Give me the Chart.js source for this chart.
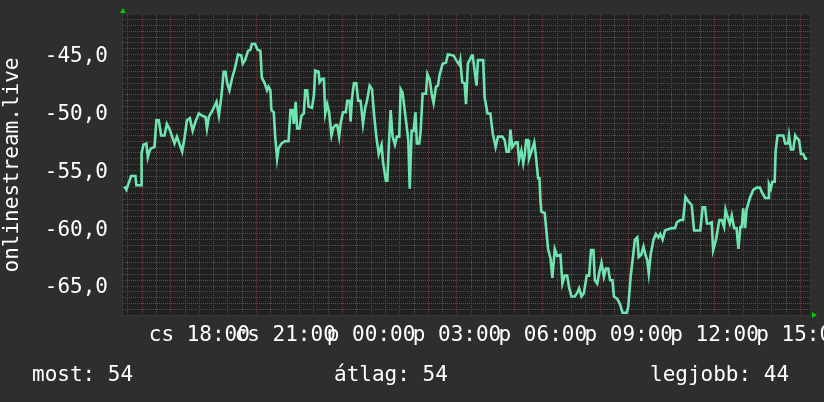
<!DOCTYPE html>
<html>
<head>
<meta charset="utf-8">
<script src="https://cdn.jsdelivr.net/npm/chart.js@4/dist/chart.umd.min.js"></script>
<style>
  html, body { margin: 0; padding: 0; background: #2e2e2e; }
  #wrap { width: 824px; height: 402px; position: relative; }
</style>
</head>
<body>
<div id="wrap"><canvas id="c" width="824" height="402"></canvas></div>
<script>
// 24 óra, percben a 15:20-as kezdéstől (csütörtök)
const startClock = 15 * 60 + 20;
const dayNames = ['cs', 'p'];
const seriesName = 'onlinestream.live';
const summary = ['most: 54', 'átlag: 54', 'legjobb: 44'];

const minutes = [
  3, 7, 17, 26, 28, 38, 39, 43, 49, 52,
  56, 59, 66, 70, 75, 80, 87, 92, 98, 103,
  108, 113, 119, 124, 129, 134, 140, 146, 152, 159,
  166, 173, 176, 180, 188, 196, 201, 206, 211, 215,
  218, 223, 229, 234, 241, 248, 251, 256, 262, 267,
  270, 277, 282, 288, 291, 297, 302, 305, 309, 311,
  316, 319, 323, 326, 332, 339, 347, 351, 355, 358,
  362, 365, 370, 374, 379, 382, 386, 389, 396, 400,
  403, 410, 412, 417, 421, 424, 428, 432, 437, 441,
  446, 449, 453, 456, 461, 467, 470, 475, 477, 480,
  484, 489, 493, 498, 503, 508, 511, 517, 522, 526,
  531, 536, 542, 545, 551, 554, 557, 561, 565, 570,
  574, 579, 582, 586, 591, 594, 598, 601, 605, 609,
  613, 616, 621, 624, 628, 635, 638, 643, 647, 651,
  656, 660, 664, 670, 677, 681, 693, 700, 705, 707,
  711, 716, 719, 723, 731, 733, 741, 744, 755, 758,
  764, 770, 775, 781, 786, 795, 800, 804, 809, 812,
  816, 823, 827, 830, 835, 839, 842, 845, 849, 851,
  856, 862, 865, 870, 873, 875, 877, 884, 891, 896,
  900, 905, 910, 917, 921, 926, 931, 935, 940, 947,
  952, 956, 961, 966, 972, 977, 981, 986, 989, 994,
  998, 1003, 1008, 1012, 1017, 1021, 1026, 1029, 1036, 1042,
  1047, 1056, 1059, 1064, 1068, 1073, 1078, 1081, 1086, 1091,
  1095, 1099, 1102, 1106, 1112, 1117, 1122, 1126, 1131, 1136,
  1143, 1150, 1157, 1161, 1168, 1174, 1179, 1185, 1192, 1197,
  1206, 1210, 1215, 1220, 1224, 1229, 1234, 1237, 1243, 1250,
  1255, 1260, 1263, 1267, 1272, 1276, 1281, 1286, 1290, 1294,
  1297, 1300, 1304, 1307, 1314, 1321, 1328, 1335, 1339, 1346,
  1352, 1354, 1358, 1361, 1366, 1368, 1372, 1384, 1388, 1394,
  1396, 1400, 1405, 1409, 1412, 1417, 1421, 1426, 1430, 1434
];

const signal = [
  -56.4, -56.7, -55.5, -55.5, -56.3, -56.3, -53.5, -52.8, -52.7, -53.9,
  -53.3, -53.1, -53.0, -50.7, -50.7, -52.0, -52.0, -51.0, -51.5, -52.1,
  -52.7, -52.1, -52.8, -53.4, -52.2, -50.7, -50.5, -51.6, -50.8, -50.1,
  -50.3, -50.4, -51.4, -50.4, -49.8, -49.1, -50.3, -48.7, -46.5, -46.5,
  -47.4, -48.1, -47.0, -46.3, -45.0, -45.1, -45.8, -45.5, -44.7, -44.6,
  -44.1, -44.1, -44.6, -44.7, -47.0, -47.5, -48.1, -47.8, -48.1, -49.8,
  -50.0, -52.1, -54.0, -53.1, -52.7, -52.5, -52.5, -49.8, -49.8, -51.0,
  -49.1, -51.4, -51.4, -50.3, -50.1, -48.1, -48.1, -49.5, -49.6, -48.6,
  -46.4, -46.5, -47.4, -47.1, -47.1, -50.1, -49.3, -50.0, -52.0, -51.3,
  -51.1, -51.1, -52.1, -51.0, -50.0, -50.0, -49.0, -49.0, -50.8, -48.8,
  -47.5, -47.5, -49.0, -49.0, -51.0, -49.5, -49.1, -47.7, -48.0, -50.1,
  -52.1, -53.6, -52.8, -54.3, -55.9, -55.9, -53.1, -49.8, -52.1, -52.8,
  -52.1, -52.1, -48.0, -48.3, -50.0, -51.0, -52.4, -56.6, -51.6, -51.6,
  -50.0, -52.7, -52.7, -51.6, -48.4, -48.4, -46.7, -47.2, -48.4, -49.2,
  -47.8, -47.7, -46.7, -45.8, -45.7, -45.0, -45.1, -45.6, -45.9, -45.5,
  -47.4, -47.5, -49.3, -45.8, -45.1, -45.1, -47.7, -45.5, -45.5, -48.7,
  -50.1, -50.1, -51.8, -53.0, -52.1, -52.1, -52.4, -53.4, -53.4, -51.5,
  -53.0, -52.6, -52.6, -54.1, -53.3, -54.4, -53.7, -52.4, -52.4, -54.0,
  -53.4, -52.6, -53.6, -55.7, -55.7, -57.7, -58.6, -58.7, -61.8, -62.6,
  -64.3, -61.8, -62.4, -62.3, -64.8, -64.1, -64.1, -65.1, -65.9, -65.9,
  -65.6, -65.2, -65.9, -65.6, -64.1, -64.1, -61.9, -61.9, -64.5, -64.8,
  -63.9, -63.0, -64.2, -63.5, -63.5, -64.5, -64.5, -65.9, -66.1, -66.6,
  -67.3, -67.3, -66.8, -64.2, -62.8, -61.0, -60.8, -62.5, -62.3, -61.6,
  -62.3, -62.8, -63.9, -62.3, -61.0, -60.5, -60.8, -60.5, -61.0, -60.2,
  -60.1, -60.0, -60.0, -59.5, -59.3, -59.3, -57.3, -57.7, -58.0, -60.2,
  -60.2, -60.2, -58.2, -58.2, -59.6, -59.6, -59.5, -61.9, -61.0, -59.3,
  -59.3, -59.9, -58.4, -59.0, -59.6, -58.9, -60.0, -60.0, -61.8, -59.9,
  -59.9, -58.3, -60.0, -58.4, -57.4, -56.7, -56.5, -56.5, -56.9, -57.4,
  -57.4, -56.2, -56.6, -56.0, -56.0, -53.3, -52.0, -52.0, -52.7, -52.7,
  -52.0, -53.2, -53.2, -52.0, -52.2, -52.4, -53.6, -53.6, -54.0, -54.0
];

const FONT = '"DejaVu Sans Mono", monospace';
const MAJOR = '#7a3535';
const MINOR = '#505050';

function clockOf(t) {
  return startClock + t;
}

function xLabel(t) {
  const c = clockOf(t);
  const m = c % 1440;
  if (m % 180 !== 0) return '';
  const day = dayNames[c >= 1440 ? 1 : 0];
  const hh = String(Math.floor(m / 60)).padStart(2, '0');
  return day + ' ' + hh + ':00';
}

// háttér, nyilak, összesítő sor
const frame = {
  id: 'frame',
  beforeDraw(chart) {
    const { ctx, chartArea: a } = chart;
    ctx.save();
    ctx.fillStyle = '#2e2e2e';
    ctx.fillRect(0, 0, chart.width, chart.height);
    ctx.fillStyle = '#212121';
    ctx.fillRect(a.left, a.top, a.right - a.left, a.bottom - a.top);
    ctx.restore();
  },
  afterDraw(chart) {
    const { ctx, chartArea: a } = chart;
    ctx.save();
    ctx.strokeStyle = '#3a3a3a';
    ctx.lineWidth = 1;
    ctx.beginPath();
    ctx.moveTo(a.left - 0.5, a.top - 4);
    ctx.lineTo(a.left - 0.5, a.bottom + 3);
    ctx.moveTo(a.left - 4, a.bottom + 0.5);
    ctx.lineTo(a.right + 2, a.bottom + 0.5);
    ctx.stroke();

    ctx.fillStyle = '#00cc00';
    ctx.beginPath();
    ctx.moveTo(a.left - 3, a.top - 2);
    ctx.lineTo(a.left + 3, a.top - 2);
    ctx.lineTo(a.left, a.top - 7);
    ctx.closePath();
    ctx.fill();
    ctx.beginPath();
    ctx.moveTo(a.right + 2, a.bottom - 3);
    ctx.lineTo(a.right + 2, a.bottom + 3);
    ctx.lineTo(a.right + 7, a.bottom);
    ctx.closePath();
    ctx.fill();

    ctx.fillStyle = '#ffffff';
    ctx.font = '21px ' + FONT;
    ctx.textBaseline = 'alphabetic';
    ctx.textAlign = 'left';
    ctx.fillText(summary[0], 32, 381);
    ctx.fillText(summary[1], 334, 381);
    ctx.fillText(summary[2], 650, 381);
    ctx.restore();
  }
};

const xTicks = [];
for (let t = 10; t <= 1440; t += 30) xTicks.push(t);

new Chart(document.getElementById('c'), {
  type: 'line',
  data: {
    datasets: [{
      label: seriesName,
      data: minutes.map((t, i) => ({ x: t, y: signal[i] })),
      borderColor: '#70e4b0',
      borderWidth: 2.6,
      pointRadius: 0,
      tension: 0,
      fill: false
    }]
  },
  options: {
    responsive: false,
    animation: false,
    devicePixelRatio: 1,
    layout: { padding: { left: 0, top: 15, right: 14, bottom: 47 } },
    plugins: { legend: { display: false }, tooltip: { enabled: false } },
    scales: {
      x: {
        type: 'linear',
        min: 0,
        max: 1440,
        afterBuildTicks(scale) {
          scale.ticks = xTicks.map(v => ({ value: v }));
        },
        afterFit(scale) {
          scale.height = 40;
          scale.paddingLeft = 0;
          scale.paddingRight = 0;
        },
        grid: {
          drawTicks: false,
          color: ctx => (clockOf(ctx.tick.value) % 60 === 0 ? MAJOR : MINOR),
          lineWidth: 1
        },
        border: { display: false, dash: [1, 1] },
        ticks: {
          autoSkip: false,
          maxRotation: 0,
          padding: 8,
          color: '#ffffff',
          font: { family: FONT, size: 21 },
          callback: v => xLabel(v)
        }
      },
      y: {
        min: -67.5,
        max: -41.6,
        afterFit(scale) {
          scale.width = 123;
          scale.paddingTop = 0;
          scale.paddingBottom = 0;
        },
        grid: {
          drawTicks: false,
          color: ctx => (Math.abs(ctx.tick.value % 5) < 1e-6 ? MAJOR : MINOR),
          lineWidth: 1
        },
        border: { display: false, dash: [1, 1] },
        title: {
          display: true,
          text: seriesName,
          color: '#ffffff',
          font: { family: FONT, size: 21 },
          padding: { top: 0, bottom: 0 }
        },
        ticks: {
          stepSize: 0.5,
          includeBounds: false,
          autoSkip: false,
          maxTicksLimit: 200,
          padding: 15,
          labelOffset: 2,
          color: '#ffffff',
          font: { family: FONT, size: 21 },
          callback: v => (Math.abs(v % 5) < 1e-6 ? v.toFixed(1).replace('.', ',') : '')
        }
      }
    }
  },
  plugins: [frame]
});
</script>
</body>
</html>
